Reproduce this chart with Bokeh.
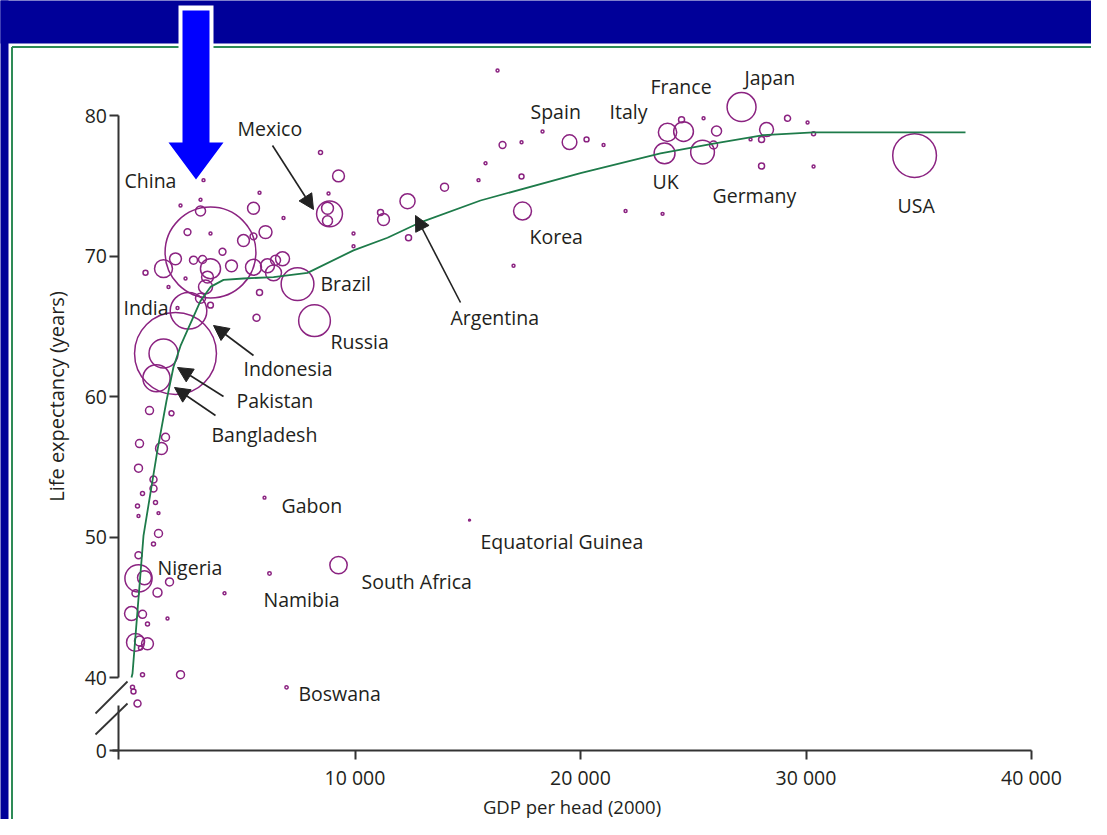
import math
from bokeh.plotting import figure
from bokeh.models import (Range1d, LinearAxis, FixedTicker, ColumnDataSource, Arrow,
                          NormalHead, CustomJSTickFormatter)
from bokeh.core.properties import value
from bokeh.embed import file_html
from bokeh.resources import INLINE

# ---------------- data ----------------
gdp = [3592, 2040, 2617, 1508, 1197, 7451, 8205, 8870, 12329, 17429, 19514, 23860, 24570,
       23727, 25412, 27142, 34815, 399, 9269, 5987, 6209, 6963, 15079,
       8781, 8781, 3149, 2572, 5499, 6032, 5056, 5499, 4125, 2838, 3238, 3592, 4524, 1508,
       2040, 710, 3459, 3371, 3149, 3592, 5499, 6120, 6475, 6786, 6386, 5766, 5632,
       2262, 3149, 5766, 6830, 3592, 2484, 1730, 2129, 3282,
       9269, 8471, 8826, 13970, 11265, 11132, 12374, 9934, 9934, 15478, 15788, 16543, 17385,
       18316, 20268, 21022, 17385, 16321, 17030, 21998, 23639, 24481, 25457, 26033, 25900,
       27541, 28029, 28251, 29182, 30069, 30335, 30335, 28029,
       887, 1863, 1597, 1419, 444, 399, 1064, 1064, 577, 1153, 355, 399, 1286, 1286, 1064,
       399, 665, 1774, 1242, 266, 89, 577, 798, 1685, 266, 444, 798, 488, 577, 2262, 133,
       177, 355, 4213]
life = [70.25, 63.06, 66.1, 63.06, 61.3, 68.0, 65.4, 73.0, 73.9, 73.2, 78.1, 78.8, 78.86,
        77.3, 77.4, 80.6, 77.15, 47.05, 48.0, 52.8, 47.4, 39.3, 51.2,
        73.4, 72.5, 73.2, 71.7, 73.4, 71.7, 71.1, 71.4, 70.3, 69.7, 69.75, 69.1, 69.3, 69.1,
        69.8, 68.8, 68.5, 67.8, 67.0, 66.5, 69.2, 69.3, 69.7, 69.8, 68.8, 67.4, 65.6,
        73.6, 74.0, 74.5, 72.7, 71.6, 68.4, 67.8, 66.3, 75.4,
        75.7, 77.37, 74.45, 74.9, 72.6, 73.1, 71.3, 71.6, 70.7, 75.4, 76.6, 77.9, 78.1,
        78.86, 78.3, 77.9, 75.66, 83.2, 69.3, 73.2, 73.0, 79.7, 79.8, 78.9, 77.9,
        78.3, 78.3, 79.0, 79.8, 79.5, 78.7, 76.37, 76.4,
        59.0, 58.8, 57.1, 56.3, 56.65, 54.9, 54.1, 53.45, 53.1, 52.45, 52.2, 51.5, 51.7, 50.25,
        49.5, 48.7, 47.1, 46.8, 46.05, 46.0, 44.55, 44.5, 43.8, 44.2, 42.5, 42.6, 42.4, 42.1,
        40.2, 40.2, 39.3, 39.0, 38.15, 46.0]
pop = [1230, 1000, 200, 125, 110, 160, 150, 100, 34, 48, 32, 50, 58,
       65, 84, 125, 285, 110, 45, 1.2, 1.8, 1.6, 0.5,
       21, 15, 15, 7, 21, 25, 21, 7, 7, 9.5, 9.5, 60, 21, 48,
       21, 3.7, 21, 29, 15, 5, 38, 29, 15, 29, 38, 5.4, 7.3,
       1.3, 1.3, 1.3, 1.3, 1.3, 1.3, 1.3, 1.3, 1.3,
       21, 2.4, 1.3, 9.5, 21, 5.4, 5.4, 1.3, 1.3, 1.3, 1.3, 7, 1.3,
       1.3, 3.7, 1.3, 3.7, 1.3, 1.3, 1.3, 1.3, 5.4, 1.3, 15, 9.5,
       1.3, 5.4, 29, 5.4, 1.3, 2.4, 1.3, 5.4,
       9.5, 3.7, 9.5, 21, 9.5, 9.5, 7.3, 7.3, 2.4, 2.4, 2.4, 1.3, 1.3, 9.5,
       2.4, 7.3, 29, 9.5, 12, 7.3, 29, 9.5, 2.4, 1.3, 48, 15, 21, 2.4,
       2.4, 9.5, 2.4, 3.7, 7.3, 1.3]

curve_gdp = [89, 133, 621, 1242, 1641, 1951, 2262, 2705, 3149, 3592, 4169, 5055, 6386,
             7894, 9933, 11441, 12905, 15565, 20000, 23548, 25898, 28115, 30333, 37073]
curve_life = [40.0, 40.28, 50.1, 56.2, 59.7, 62.1, 63.6, 65.2, 66.8, 67.8, 68.3, 68.4, 68.5,
              68.8, 70.4, 71.3, 72.4, 73.95, 75.9, 77.3, 78.0, 78.6, 78.8, 78.8]

x_ticks = [10000, 20000, 30000, 40000]
y_ticks = [40, 50, 60, 70, 80]

label_text = ["Mexico", "China", "India", "Brazil", "Russia", "Indonesia", "Pakistan",
              "Bangladesh", "Argentina", "Korea", "Spain", "Italy", "France", "Japan", "UK",
              "Germany", "USA", "Gabon", "Equatorial Guinea", "Nigeria", "South Africa",
              "Namibia", "Boswana"]

# ---------------- layout helpers (page pixels -> data) ----------------
W, H = 1091, 819
def xd(px):
    return (px - 129) / 0.02255
def yd(py):
    return 40 + (677 - py) / 14.05

label_px = [237, 124, 123, 320, 330, 243, 236, 211, 450, 529, 530, 609, 650, 744, 652,
            712, 897, 281, 480, 157, 361, 263, 298]
label_py = [128, 180, 307, 283, 341, 368, 400, 434, 317, 236, 111, 111, 86, 77, 181,
            195, 205, 505, 541, 567, 581, 599, 693]

# annotation arrows: (tail px, tail py, tip px, tip py)
arrows = [(272, 145, 313, 209), (460, 302, 415, 215), (253, 355, 213, 325),
          (223, 396, 177, 367), (215, 415, 174, 387)]

FONT = "Open Sans"
TXT = "#231f20"
NAVY = "#000099"
PURPLE = "#8B2381"
GREEN = "#1E7B4A"

p = figure(width=W, height=H, x_range=Range1d(xd(0), xd(W)),
           y_range=Range1d(yd(H), yd(0)), x_axis_type=None, y_axis_type=None,
           toolbar_location=None, output_backend="svg", min_border=0,
           outline_line_color=None, background_fill_color="white",
           border_fill_color="white")

# navy frame (top band + left strip) and green panel border
p.quad(left=[xd(-10), xd(-10)], right=[xd(1200), xd(8)], bottom=[yd(43), yd(900)],
       top=[yd(-10), yd(-10)], fill_color=NAVY, line_color=None, level="underlay")
p.segment(x0=[xd(11.5), xd(11.5)], y0=[yd(46.5), yd(46.5)], x1=[xd(1200), xd(11.5)],
          y1=[yd(46.5), yd(900)], line_color="#2E8B57", line_width=2, level="underlay")

# bubbles
src = ColumnDataSource(dict(gdp=gdp, life=life, pop=pop,
                            size=[2.59 * math.sqrt(v) for v in pop]))
p.scatter(x="gdp", y="life", size="size", source=src, fill_color=None,
          line_color=PURPLE, line_width=1.5)

# fitted curve
p.line(curve_gdp, curve_life, line_color=GREEN, line_width=1.8)

# axes
Y0 = 34.8
XA = -466
xaxis = LinearAxis(fixed_location=Y0, bounds=(xd(112), 40000),
                   ticker=FixedTicker(ticks=[XA] + x_ticks),
                   formatter=CustomJSTickFormatter(code="""
if (tick < 0) { return ""; }
var s = Math.round(tick).toString();
if (s.length > 3) { s = s.slice(0, s.length - 3) + " " + s.slice(s.length - 3); }
return s;"""),
                   axis_label="GDP per head (2000)")
yaxis = LinearAxis(fixed_location=XA, bounds=(40, 80), ticker=FixedTicker(ticks=y_ticks),
                   axis_label="Life expectancy (years)")
yaxis0 = LinearAxis(fixed_location=XA, bounds=(Y0, yd(705)), ticker=FixedTicker(ticks=[Y0]),
                    formatter=CustomJSTickFormatter(code="return '0';"))
for ax in (xaxis, yaxis, yaxis0):
    ax.axis_line_color = "#333333"
    ax.axis_line_width = 2
    ax.major_tick_line_color = "#333333"
    ax.major_tick_line_width = 2
    ax.major_tick_in = 0
    ax.major_tick_out = 9
    ax.minor_tick_line_color = None
    ax.major_label_text_font = FONT
    ax.major_label_text_font_size = "19.5px"
    ax.major_label_text_color = TXT
    ax.axis_label_text_font = FONT
    ax.axis_label_text_font_size = "19px"
    ax.axis_label_text_font_style = "normal"
    ax.axis_label_text_color = TXT
yaxis.axis_label_text_font_size = "20px"
xaxis.axis_label_text_font_size = "18.5px"
xaxis.major_label_standoff = 4
xaxis.axis_label_standoff = 0
yaxis.major_label_standoff = 3
yaxis0.major_label_standoff = 3
yaxis.axis_label_standoff = 11
p.add_layout(xaxis, "below")
p.add_layout(yaxis, "left")
p.add_layout(yaxis0, "left")

# axis break marks
p.segment(x0=[xd(95), xd(95)], y0=[yd(713), yd(734)], x1=[xd(127), xd(127)],
          y1=[yd(681), yd(703)], line_color="#333333", line_width=1.8)

# annotation arrows
for (tx, ty, hx, hy) in arrows:
    p.add_layout(Arrow(end=NormalHead(size=15, fill_color="#222222", line_color="#222222"),
                       x_start=xd(tx), y_start=yd(ty), x_end=xd(hx), y_end=yd(hy),
                       line_color="#222222", line_width=1.6))

# country labels
p.text(x=[xd(v) for v in label_px], y=[yd(v) for v in label_py], text=label_text,
       text_font=value(FONT), text_font_size="19.5px", text_color=TXT,
       text_baseline="middle", text_align="left")

# big blue arrow
p.patch([xd(178), xd(213), xd(213), xd(178)], [yd(5), yd(5), yd(60), yd(60)],
        fill_color="white", line_color=None)
p.patch([xd(182), xd(209), xd(209), xd(223), xd(195.5), xd(168), xd(182)],
        [yd(10), yd(10), yd(142), yd(142), yd(179), yd(142), yd(142)],
        fill_color="#0000FF", line_color=None)

open("out.html", "w").write(file_html(p, INLINE))
